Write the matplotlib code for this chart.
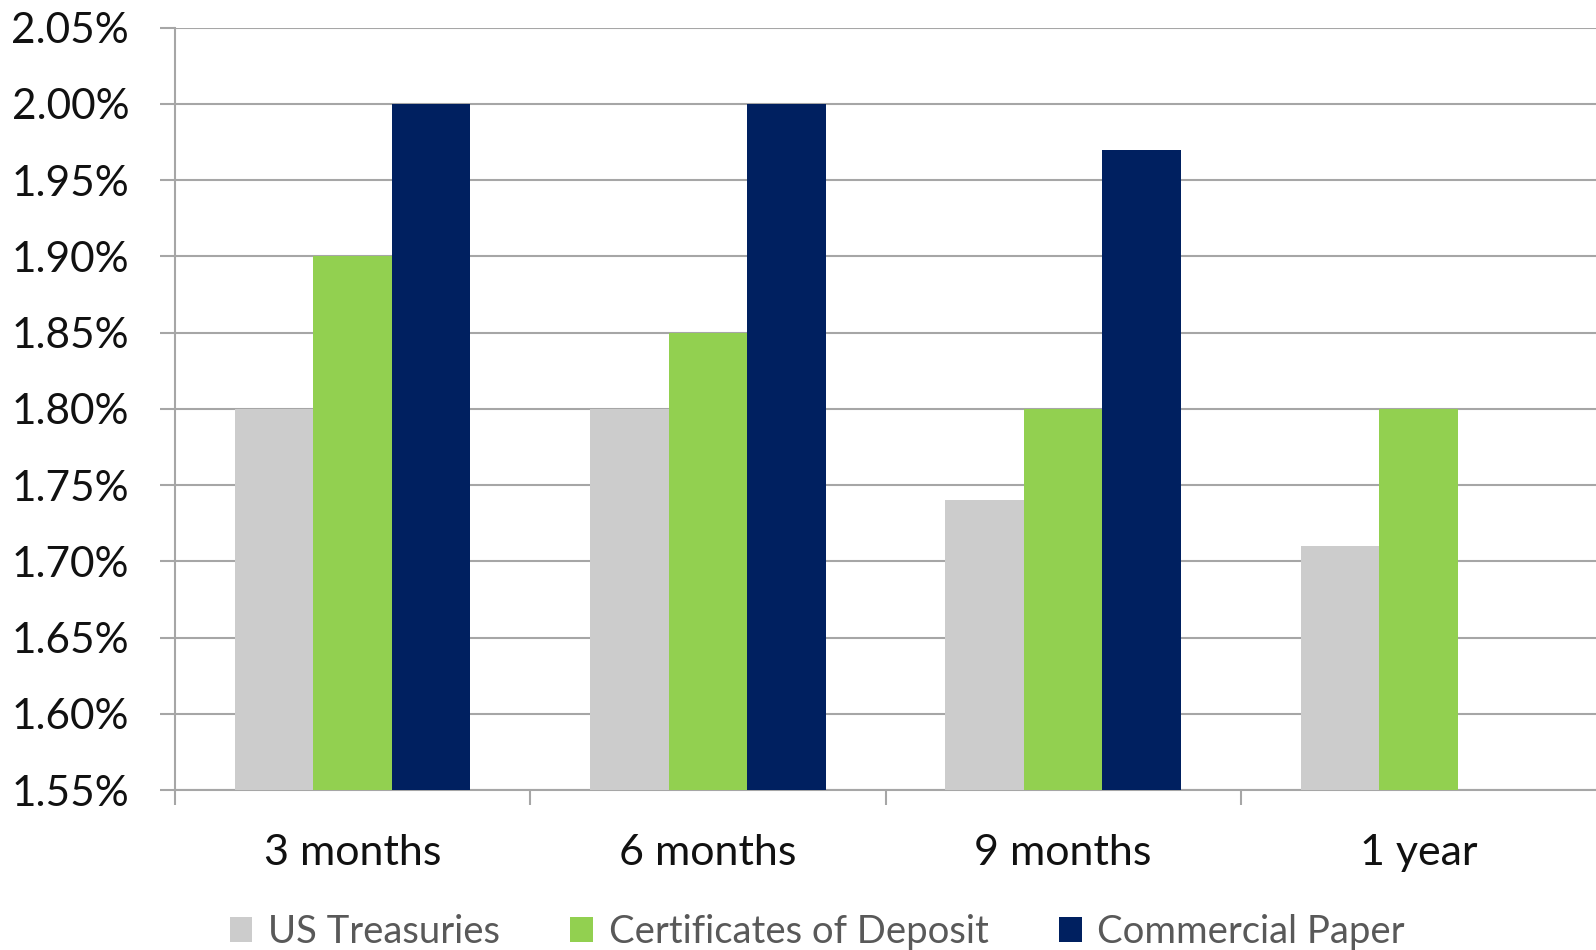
import numpy as np
import matplotlib.pyplot as plt
from matplotlib.ticker import FuncFormatter, FixedLocator

plt.rcParams['font.family'] = ['Lato', 'DejaVu Sans']

categories = ['3 months', '6 months', '9 months', '1 year']
series = ['US Treasuries', 'Certificates of Deposit', 'Commercial Paper']
treasuries = [1.80, 1.80, 1.74, 1.71]
cds = [1.90, 1.85, 1.80, 1.80]
paper = [2.00, 2.00, 1.97, np.nan]
colors = ['#cccccc', '#92d050', '#002060']

fig = plt.figure(figsize=(15.96, 9.5), dpi=100)
ax = fig.add_axes([0.1097, 0.1684, 0.8903, 0.8026])

x = np.arange(len(categories))
w = 0.221
for i, (vals, lab, c) in enumerate(zip([treasuries, cds, paper], series, colors)):
    ax.bar(x + (i - 1) * w, np.array(vals) - 1.55, bottom=1.55, width=w,
           color=c, label=lab, zorder=3)

ax.set_ylim(1.55, 2.05)
ax.set_xlim(-0.5, 3.5)
ax.set_yticks(np.arange(1.55, 2.0501, 0.05))
ax.yaxis.set_major_formatter(FuncFormatter(lambda v, p: f'{v:.2f}%'))
ax.grid(axis='y', color='#a6a6a6', linewidth=1.5, zorder=0)

ax.xaxis.set_major_locator(FixedLocator([-0.5, 0.5, 1.5, 2.5]))
ax.xaxis.set_minor_locator(FixedLocator(x))
ax.set_xticklabels([], minor=False)
ax.set_xticklabels(categories, minor=True, fontsize=31, color='#111111')
ax.tick_params(axis='x', which='minor', length=0, pad=32)
ax.tick_params(axis='x', which='major', length=11, width=1.5, color='#a6a6a6')
ax.tick_params(axis='y', length=11, width=1.5, color='#a6a6a6', pad=22,
               labelsize=30.5, labelcolor='#111111')

for s in ['top', 'right']:
    ax.spines[s].set_visible(False)
for s in ['left', 'bottom']:
    ax.spines[s].set_color('#a6a6a6')
    ax.spines[s].set_linewidth(1.5)

leg = fig.legend(loc='center', bbox_to_anchor=(0.512, 0.019), ncol=3,
                 frameon=False, fontsize=27.5, handlelength=0.6, handleheight=0.6,
                 handletextpad=0.4, columnspacing=1.85)
for t in leg.get_texts():
    t.set_color('#595959')

fig.savefig('out.png', dpi=100)
